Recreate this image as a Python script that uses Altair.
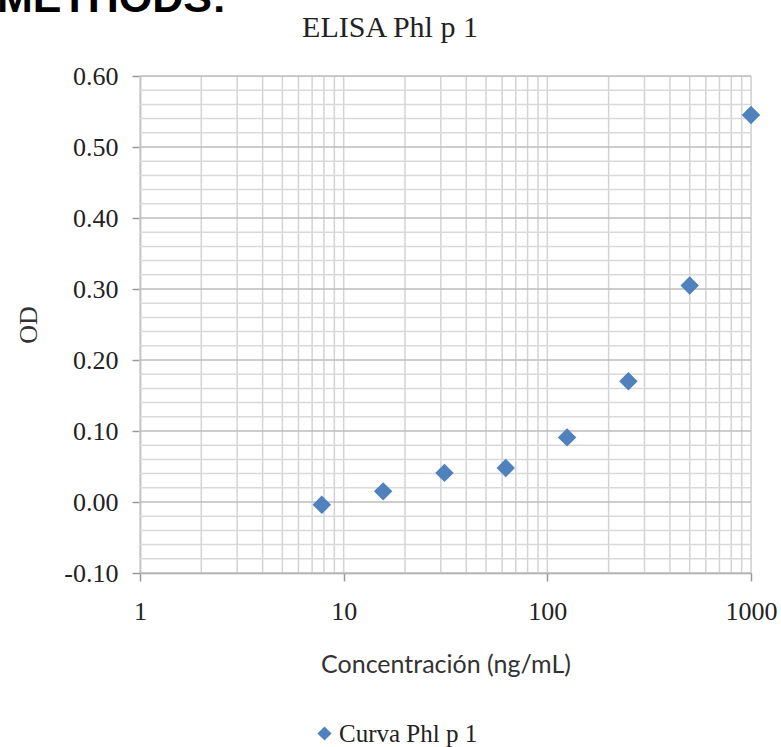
import altair as alt
import pandas as pd

# Data
conc = [7.8125, 15.625, 31.25, 62.5, 125, 250, 500, 1000]
od = [-0.004, 0.015, 0.041, 0.048, 0.091, 0.170, 0.305, 0.545]
series_name = "Curva Phl p 1"

x_ticks = [1, 10, 100, 1000]
y_ticks = [-0.10, 0.00, 0.10, 0.20, 0.30, 0.40, 0.50, 0.60]
x_grid = [m * 10 ** k for k in (0, 1, 2) for m in range(1, 10)] + [1000]
y_minor = [round(-0.10 + 0.02 * i, 2) for i in range(36)]

W, H = 611, 497
SERIF = "Liberation Serif"

df = pd.DataFrame({"conc": conc, "od": od, "series": [series_name] * len(conc)})
xg = pd.DataFrame({"conc": x_grid})
ygm = pd.DataFrame({"od": [v for v in y_minor if abs(v * 10 - round(v * 10)) > 1e-6]})
ygM = pd.DataFrame({"od": y_ticks})

xscale = alt.Scale(type="log", domain=[1, 1000], nice=False)
yscale = alt.Scale(domain=[-0.1, 0.6], nice=False, zero=False)

xaxis = alt.Axis(
    values=x_ticks, format="d", grid=False, tickSize=8, labelFlush=False,
    tickColor="#9a9a9a", domainColor="#9a9a9a", tickWidth=1.5, domainWidth=1.5,
    labelFont=SERIF, labelFontSize=26, labelColor="#222222", labelPadding=17,
    title="Concentración (ng/mL)", titleFont="Lato", titleFontSize=25,
    titleFontWeight="normal", titleColor="#333333", titlePadding=28,
)
yaxis = alt.Axis(
    values=y_ticks, grid=False, tickSize=8, labelFlush=False,
    labelExpr="datum.value < 0 ? '-' + format(-datum.value, '.2f') : format(datum.value, '.2f')",
    tickColor="#9a9a9a", domainColor="#9a9a9a", tickWidth=1.5, domainWidth=1.5,
    labelFont=SERIF, labelFontSize=26, labelColor="#222222", labelPadding=14,
    title="OD", titleFont=SERIF, titleFontSize=26, titleFontWeight="normal",
    titleColor="#333333", titlePadding=22,
)

X = alt.X("conc:Q", scale=xscale, axis=xaxis, title="Concentración (ng/mL)")
Y = alt.Y("od:Q", scale=yscale, axis=yaxis, title="OD")

vgrid = alt.Chart(xg).mark_rule(color="#d3d3d3", strokeWidth=1.5).encode(x=X)
hgrid_minor = alt.Chart(ygm).mark_rule(color="#d9d9d9", strokeWidth=1.5).encode(y=Y)
hgrid_major = alt.Chart(ygM).mark_rule(color="#bdbdbd", strokeWidth=1.5).encode(y=Y)

points = alt.Chart(df).mark_point(filled=True, shape="diamond", size=340, opacity=1).encode(
    x=X,
    y=Y,
    color=alt.Color(
        "series:N",
        scale=alt.Scale(range=["#4F81BD"]),
        legend=alt.Legend(
            orient="none", legendX=172, legendY=645, title=None,
            symbolType="diamond", symbolSize=200, symbolStrokeWidth=0,
            labelFont=SERIF, labelFontSize=25, labelColor="#222222", padding=0,
            labelOffset=2,
        ),
    ),
)

texts = pd.DataFrame({"t": ["METHODS:"]})
methods = alt.Chart(texts).mark_text(
    font="Liberation Sans", fontSize=43, fontWeight="bold", color="#000000",
    align="left", baseline="alphabetic",
).encode(text="t:N", x=alt.value(-143), y=alt.value(-64))

titles = pd.DataFrame({"t": ["ELISA Phl p 1"]})
title = alt.Chart(titles).mark_text(
    font=SERIF, fontSize=30, fontWeight="normal", color="#222222",
    align="center", baseline="alphabetic",
).encode(text="t:N", x=alt.value(250), y=alt.value(-39))

chart = alt.layer(vgrid, hgrid_minor, hgrid_major, points, methods, title).properties(
    width=W, height=H,
    autosize=alt.AutoSizeParams(type="none"),
    padding={"left": 140, "top": 76, "right": 30, "bottom": 174},
).configure_view(stroke=None).configure(background="white")

chart.save("out.html", embed_options={"renderer": "svg", "actions": False})
